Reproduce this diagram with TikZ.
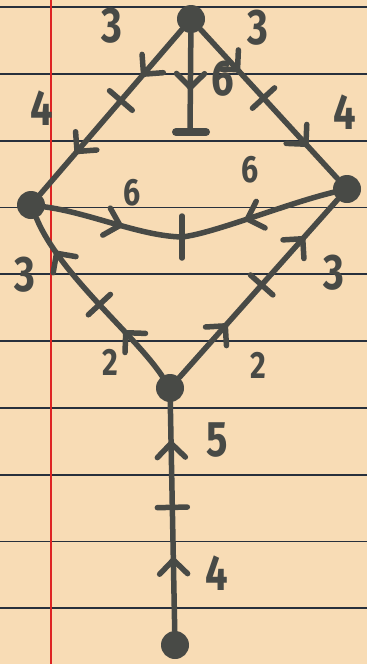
\documentclass[tikz,border=0pt]{standalone}
\usepackage{fontspec}
\newfontfamily\handfont[FakeStretch=0.8]{Fira Sans}
\usetikzlibrary{decorations.markings}
\definecolor{paper}{RGB}{248,220,181}
\definecolor{inkc}{RGB}{72,74,70}
\definecolor{ruleblue}{RGB}{40,48,60}
\definecolor{marginred}{RGB}{222,35,35}
\tikzset{
  ink/.style={draw=inkc, line width=5.5pt, line cap=round, line join=round},
  vtx/.style={circle, fill=inkc, minimum size=28pt, inner sep=0pt},
  lblbig/.style={text=inkc, font=\handfont\bfseries\fontsize{50}{50}\selectfont, inner sep=0pt},
  lblsmall/.style={text=inkc, font=\handfont\bfseries\fontsize{38}{38}\selectfont, inner sep=0pt},
  arrowat/.style={postaction={decorate, decoration={markings,
      mark=at position #1 with {\draw[ink] (-14pt,14pt) -- (0pt,0pt) -- (-14pt,-14pt);}}}},
  tickat/.style={postaction={decorate, decoration={markings,
      mark=at position #1 with {\draw[ink] (0pt,-15pt) -- (0pt,15pt);}}}},
}
\begin{document}
\begin{tikzpicture}[x=1pt, y=-1pt]
  % paper
  \fill[paper] (0,0) rectangle (367,664);
  \useasboundingbox (0,0) rectangle (367,664);
  \foreach \k in {0,...,9} {
    \draw[ruleblue, line width=1.8pt] (0,{7+66.8*\k}) -- (367,{7+66.8*\k});
  }
  \draw[marginred, line width=2pt] (51,0) -- (51,664);

  % vertices
  \node[vtx] (T) at (191,19) {};
  \node[vtx] (L) at (31,205) {};
  \node[vtx] (R) at (347,189) {};
  \node[vtx] (M) at (170,388) {};
  \node[vtx] (B) at (175,645) {};
  \coordinate (mid) at (182,237);
  \coordinate (bar) at (190,132);

  % edges
  \draw[ink, arrowat=0.27, tickat=0.43, arrowat=0.74] (T) -- (L);
  \draw[ink, arrowat=0.27, tickat=0.46, arrowat=0.77] (T) -- (R);
  \draw[ink, arrowat=0.55] (T) -- (bar);
  \draw[inkc, line width=8pt, line cap=round] ([xshift=-14pt]bar) -- ([xshift=16pt]bar);
  \draw[ink, arrowat=0.55] (L) .. controls (90,213) and (140,236) .. (mid);
  \draw[ink, arrowat=0.57] (R) .. controls (285,204) and (215,233) .. (mid);
  \draw[ink] ([yshift=-21pt]mid) -- ([yshift=21pt]mid);
  \draw[ink, arrowat=0.28, tickat=0.47, arrowat=0.8] (M) .. controls (135,335) and (60,275) .. (L);
  \draw[ink, arrowat=0.29, tickat=0.52, arrowat=0.78] (M) -- (R);
  \draw[ink, arrowat=0.31, tickat=0.54, arrowat=0.82] (B) -- (M);

  % labels
  \node[lblbig] (l1) at (112,26) {3};
  \node[lblbig] (l2) at (258,28) {3};
  \node[lblbig] (l3) at (42,108) {4};
  \node[lblbig] (l4) at (345,112) {4};
  \node[lblbig] (l5) at (223,79) {6};
  \node[lblsmall] (l6) at (132,193) {6};
  \node[lblsmall] (l7) at (250,170) {6};
  \node[lblbig] (l8) at (25,275) {3};
  \node[lblsmall] (l9) at (110,362) {2};
  \node[lblsmall] (l10) at (258,365) {2};
  \node[lblbig] (l11) at (334,273) {3};
  \node[lblbig] (l12) at (217,440) {5};
  \node[lblbig] (l13) at (217,573) {4};
\end{tikzpicture}
\end{document}
